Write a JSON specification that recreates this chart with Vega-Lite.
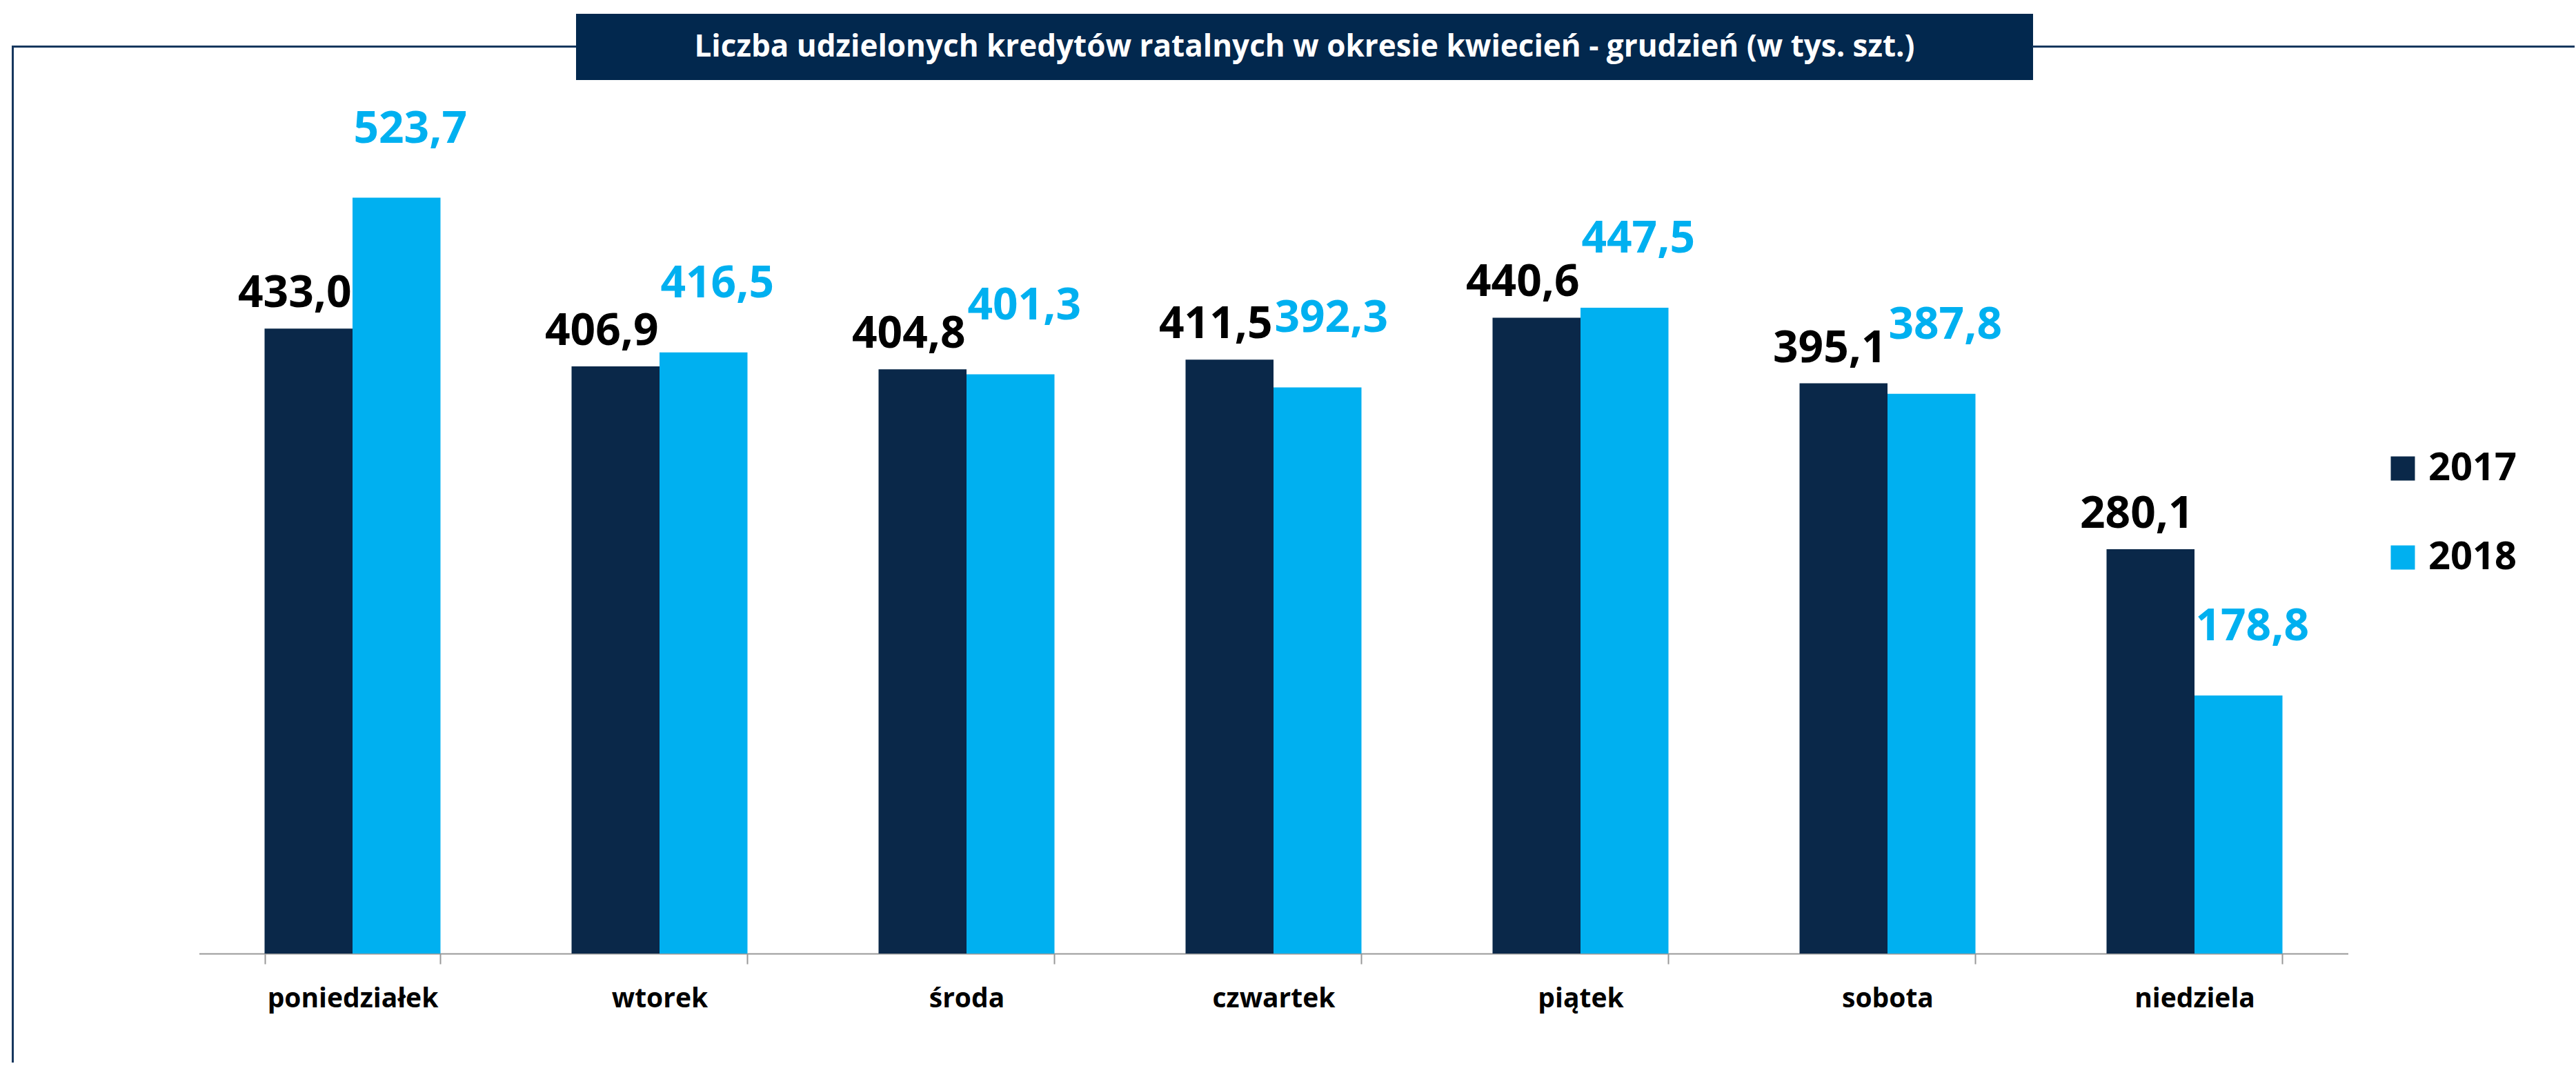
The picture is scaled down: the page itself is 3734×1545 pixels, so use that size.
{
  "$schema": "https://vega.github.io/schema/vega-lite/v6.json",
  "padding": {"left": 18, "top": 20, "right": 0, "bottom": 0},
  "background": "white",
  "config": {
    "font": "Open Sans",
    "locale": {"number": {"decimal": ",", "thousands": " ", "grouping": [3], "currency": ["", " zł"]}}
  },
  "datasets": {
    "kredyty": [
      {"dzien": "poniedziałek", "rok": "2017", "wartosc": 433.0},
      {"dzien": "poniedziałek", "rok": "2018", "wartosc": 523.7},
      {"dzien": "wtorek", "rok": "2017", "wartosc": 406.9},
      {"dzien": "wtorek", "rok": "2018", "wartosc": 416.5},
      {"dzien": "środa", "rok": "2017", "wartosc": 404.8},
      {"dzien": "środa", "rok": "2018", "wartosc": 401.3},
      {"dzien": "czwartek", "rok": "2017", "wartosc": 411.5},
      {"dzien": "czwartek", "rok": "2018", "wartosc": 392.3},
      {"dzien": "piątek", "rok": "2017", "wartosc": 440.6},
      {"dzien": "piątek", "rok": "2018", "wartosc": 447.5},
      {"dzien": "sobota", "rok": "2017", "wartosc": 395.1},
      {"dzien": "sobota", "rok": "2018", "wartosc": 387.8},
      {"dzien": "niedziela", "rok": "2017", "wartosc": 280.1},
      {"dzien": "niedziela", "rok": "2018", "wartosc": 178.8}
    ]
  },
  "spacing": 0,
  "vconcat": [
    {
      "spacing": 0,
      "hconcat": [
        {
          "width": 817,
          "height": 96,
          "view": {"stroke": null},
          "data": {"values": []},
          "mark": {"type": "point"},
          "encoding": {
            "x": {
              "datum": 0,
              "type": "quantitative",
              "scale": {"domain": [0, 1]},
              "axis": {"orient": "bottom", "offset": -49, "domainColor": "#17375E", "domainWidth": 3, "domainCap": "square", "ticks": false, "labels": false, "grid": false, "title": null}
            },
            "y": {
              "datum": 0,
              "type": "quantitative",
              "scale": {"domain": [0, 1], "range": [96, 47]},
              "axis": {"orient": "left", "domainColor": "#17375E", "domainWidth": 3, "domainCap": "square", "ticks": false, "labels": false, "grid": false, "title": null}
            }
          }
        },
        {
          "width": 2112,
          "height": 96,
          "view": {"fill": "#02284E", "stroke": null},
          "data": {"values": [{"tytul": "Liczba udzielonych kredytów ratalnych w okresie kwiecień - grudzień (w tys. szt.)"}]},
          "mark": {"type": "text", "font": "Open Sans", "fontSize": 44, "fontWeight": "bold", "color": "white", "align": "center", "baseline": "middle", "dy": 1},
          "encoding": {"text": {"field": "tytul", "type": "nominal"}}
        },
        {
          "width": 783,
          "height": 96,
          "view": {"stroke": null},
          "data": {"values": []},
          "mark": {"type": "point"},
          "encoding": {
            "x": {
              "datum": 0,
              "type": "quantitative",
              "scale": {"domain": [0, 1]},
              "axis": {"orient": "bottom", "offset": -49, "domainColor": "#17375E", "domainWidth": 3, "domainCap": "square", "ticks": false, "labels": false, "grid": false, "title": null}
            }
          }
        }
      ]
    },
    {
      "width": 3714,
      "height": 1424,
      "view": {"fill": null, "stroke": null},
      "data": {"name": "kredyty"},
      "encoding": {
        "x": {
          "field": "dzien",
          "type": "nominal",
          "sort": null,
          "scale": {"range": [270.5, 3385.5], "paddingInner": 0.427, "paddingOuter": 0.2135},
          "axis": {
            "title": null,
            "labelAngle": 0,
            "labelLimit": 0,
            "labelFont": "Open Sans",
            "labelFontSize": 39,
            "labelFontWeight": "bold",
            "labelColor": "black",
            "labelPadding": 31,
            "tickSize": 15,
            "tickWidth": 2,
            "tickColor": "#999999",
            "tickBand": "extent",
            "domainColor": "#999999",
            "domainWidth": 2,
            "grid": false,
            "offset": -158
          }
        },
        "xOffset": {"field": "rok", "type": "nominal"},
        "y": {
          "field": "wartosc",
          "type": "quantitative",
          "scale": {"domain": [-75.54, 605.25], "nice": false, "zero": false},
          "axis": {"orient": "left", "domainColor": "#17375E", "domainWidth": 3, "domainCap": "square", "ticks": false, "labels": false, "grid": false, "title": null}
        }
      },
      "layer": [
        {
          "mark": {"type": "bar"},
          "encoding": {
            "color": {
              "field": "rok",
              "type": "nominal",
              "scale": {"domain": ["2017", "2018"], "range": ["#0A2849", "#00B0F0"]},
              "legend": {
                "title": null,
                "orient": "none",
                "legendX": 3437,
                "legendY": 631,
                "padding": 0,
                "symbolType": "square",
                "symbolSize": 1225,
                "symbolStrokeWidth": 0,
                "labelFont": "Open Sans",
                "labelFontSize": 56,
                "labelFontWeight": "bold",
                "labelColor": "black",
                "labelOffset": 9,
                "rowPadding": 73
              }
            }
          }
        },
        {
          "transform": [{"filter": "datum.rok == '2017'"}],
          "mark": {"type": "text", "font": "Open Sans", "fontSize": 64, "fontWeight": "bold", "color": "black", "baseline": "alphabetic", "align": "center", "dy": -31, "dx": -20},
          "encoding": {"text": {"field": "wartosc", "type": "quantitative", "format": ".1f"}}
        },
        {
          "transform": [{"filter": "datum.rok == '2018'"}],
          "mark": {"type": "text", "font": "Open Sans", "fontSize": 64, "fontWeight": "bold", "color": "#00B0F0", "baseline": "alphabetic", "align": "center", "dy": -80, "dx": 20},
          "encoding": {"text": {"field": "wartosc", "type": "quantitative", "format": ".1f"}}
        }
      ]
    }
  ]
}
